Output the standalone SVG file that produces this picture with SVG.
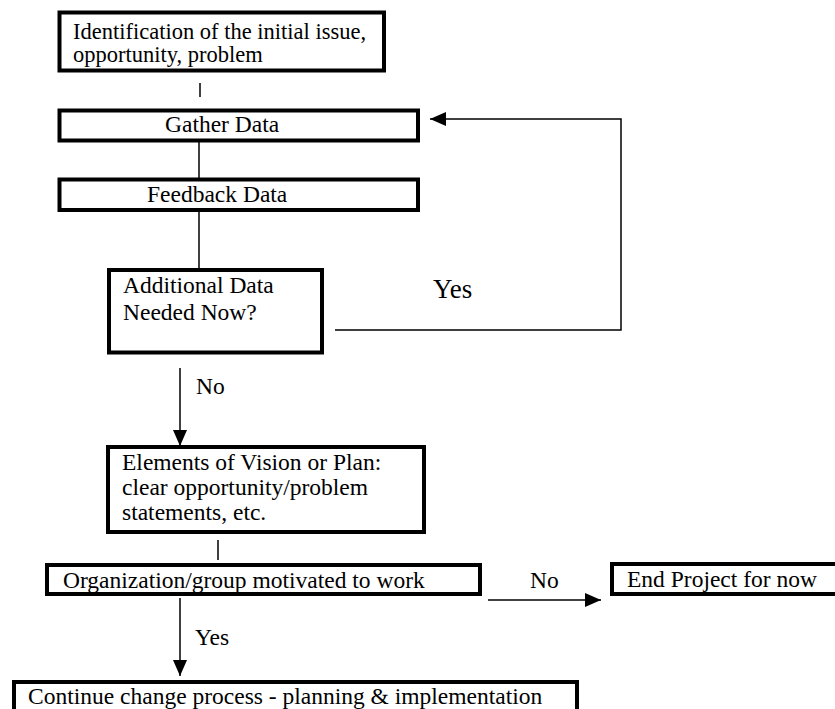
<svg xmlns="http://www.w3.org/2000/svg" width="835" height="709" viewBox="0 0 835 709" font-family="'Liberation Serif', 'DejaVu Serif', serif">
  <defs>
    <style>
      .box { fill: #ffffff; stroke: #000000; stroke-width: 4; }
      .link { fill: none; stroke: #000000; stroke-width: 1.5; }
      .t { font-family: 'Liberation Serif', 'Times New Roman', 'DejaVu Serif', serif; font-size: 23.5px; fill: #000000; }
      .small { font-size: 22.5px; }
      .big { font-size: 27px; }
    </style>
    <marker id="arrowBig" viewBox="0 0 16 14" refX="16" refY="7" markerWidth="16" markerHeight="14" markerUnits="userSpaceOnUse" orient="auto">
      <path d="M0,0 L16,7 L0,14 Z" fill="#000000"/>
    </marker>
  </defs>
  <rect width="835" height="709" fill="#ffffff"/>

  <!-- connectors and their labels -->
  <g id="connectors">
    <line class="link" x1="200" y1="83" x2="200" y2="97"/>
    <line class="link" x1="199" y1="141" x2="199" y2="178"/>
    <line class="link" x1="199" y1="211" x2="199" y2="270"/>
    <polyline class="link" points="335,330 621,330 621,119 430,119" marker-end="url(#arrowBig)"/>
    <line class="link" x1="180" y1="368" x2="180" y2="446" marker-end="url(#arrowBig)"/>
    <line class="link" x1="218" y1="540" x2="218" y2="560"/>
    <line class="link" x1="180" y1="598" x2="180" y2="676" marker-end="url(#arrowBig)"/>
    <line class="link" x1="488" y1="600" x2="601" y2="600" marker-end="url(#arrowBig)"/>
    <text class="t" x="196" y="394">No</text>
    <text class="t big" x="433" y="298">Yes</text>
    <text class="t" x="195" y="645">Yes</text>
    <text class="t" x="530" y="588">No</text>
  </g>

  <g id="identify">
    <rect class="box" x="59.5" y="12.5" width="324.5" height="58"/>
    <text class="t small" x="73" y="39">Identification of the initial issue,</text>
    <text class="t small" x="73" y="62">opportunity, problem</text>
  </g>

  <g id="gather">
    <rect class="box" x="59.5" y="110.5" width="358.5" height="30"/>
    <text class="t" x="165" y="132">Gather Data</text>
  </g>

  <g id="feedback">
    <rect class="box" x="59.5" y="179.5" width="358.5" height="30.5"/>
    <text class="t" x="147" y="202">Feedback Data</text>
  </g>

  <g id="additional">
    <rect class="box" x="109" y="270" width="213" height="82.5"/>
    <text class="t" x="123" y="293">Additional Data</text>
    <text class="t" x="123" y="320">Needed Now?</text>
  </g>

  <g id="vision">
    <rect class="box" x="108" y="447" width="316" height="85"/>
    <text class="t" x="122" y="470">Elements of Vision or Plan:</text>
    <text class="t" x="122" y="495">clear opportunity/problem</text>
    <text class="t" x="122" y="520">statements, etc.</text>
  </g>

  <g id="motivated">
    <rect class="box" x="47" y="565" width="433" height="29"/>
    <text class="t" x="63" y="588">Organization/group motivated to work</text>
  </g>

  <g id="end">
    <rect class="box" x="612" y="564" width="230" height="30"/>
    <text class="t" x="627" y="587">End Project for now</text>
  </g>

  <g id="continue">
    <rect class="box" x="14" y="682" width="563" height="40"/>
    <text class="t" x="28" y="704">Continue change process - planning &amp; implementation</text>
  </g>
</svg>
